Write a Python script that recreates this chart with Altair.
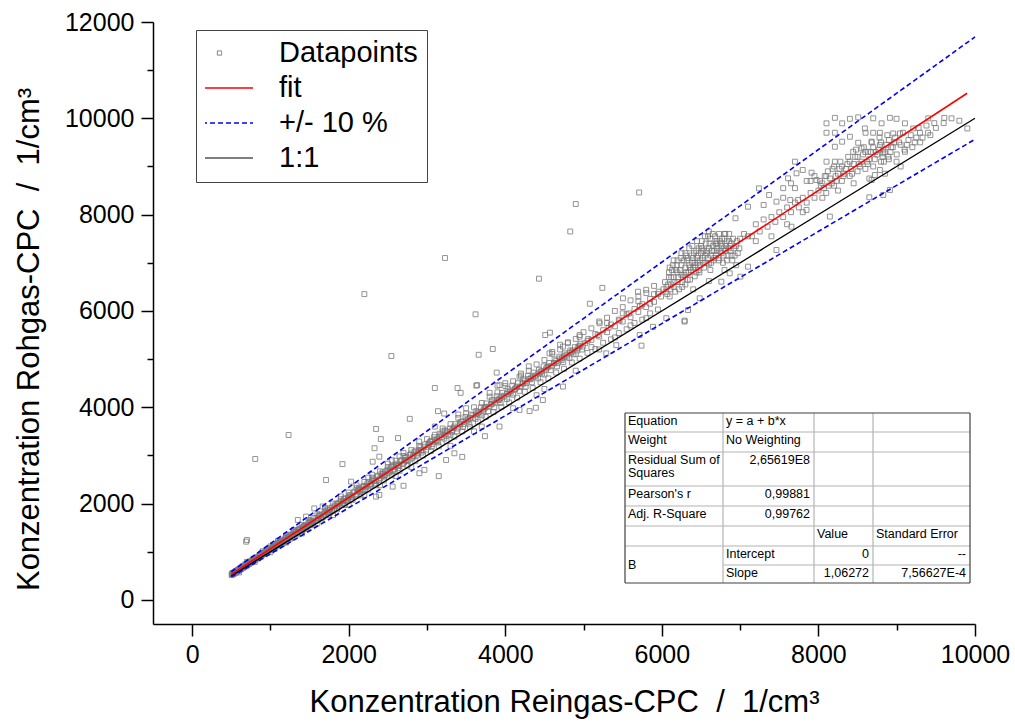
import altair as alt
import pandas as pd

# ---------------- data ----------------
pts_low = [(505,520),(510,545),(515,530),(520,560),(525,535),(530,540),(535,555),(540,580),(545,560),(550,565),
           (555,590),(560,600),(565,575),(575,590),(580,620),(590,630),(595,610),(600,610),(600,570),(610,640),
           (615,660),(625,645),(630,650),(640,690),(645,700),(650,665),(660,680),(670,715),(680,735),(690,700),
           (700,720),(700,790),(710,745),(715,770),(725,740),(730,760),(740,800),(750,800),(760,780),(770,795),
           (780,840),(790,850),(800,790),(810,840),(820,870),(830,885),(840,860),(850,870),(860,930),(870,940),
           (880,900),(890,925),(900,1010),(910,975),(920,950),(930,960),(940,1010),(950,1020),(960,985),(975,1010),
           (990,1070),(1000,1080),(1000,990),(1010,1040),(1020,1060),(1035,1100),(1045,1120),(1060,1090),(1070,1110),
           (1085,1170),(1095,1180),(1100,1220),(1110,1140),(1120,1160),(1135,1210),(1150,1230),(1160,1190),
           (1175,1220),(1190,1280),(1200,1300),(1200,1190),(1215,1250),(1230,1280),(1245,1340),(1260,1330),
           (1275,1300),(1290,1350),(1300,1450),(1310,1400),(1320,1420),(1335,1380),(1350,1400),(1365,1470),
           (1380,1480),(1395,1430),(1400,1380),(1410,1450),(1425,1530),(1440,1530),(1455,1500),(1470,1520),
           (1485,1600),(1500,1610),(1515,1550),(1530,1580),(1350,1660),(1455,1730)]

pts_low_b = [(508,530),(518,550),(528,555),(538,570),(548,585),(558,580),(568,600),(578,605),(588,615),(598,635),
             (608,625),(618,655),(628,665),(638,670),(648,685),(658,700),(668,700),(678,720),(688,740),(698,740),
             (720,760),(745,780),(765,815),(785,830),(805,860),(825,860),(845,900),(865,910),(885,950),(905,960),
             (925,990),(945,990),(965,1030),(985,1040),(1005,1060),(1030,1080),(1055,1130),(1080,1140),(1105,1180),
             (1130,1190),(1155,1240),(1180,1250),(1205,1280),(1235,1310),(1265,1360),(1295,1370),(1325,1410),
             (1355,1450),(1385,1460),(1415,1510),(1445,1550),(1475,1560),(1505,1590)]

pts_mid = [(1550,1700),(1560,1900),(1580,1640),(1600,1590),(1610,1690),(1620,1740),(1640,1760),(1667,1940),
           (1670,1720),(1700,1830),(1700,1910),(1730,1800),(1750,1870),(1760,1900),(1790,1850),(1800,1760),
           (1820,1960),(1850,1900),(1860,1990),(1880,2020),(1900,2150),(1910,1980),(1940,2100),(1970,2060),
           (1990,2110),(2000,2150),(2000,1980),(2030,2100),(2030,2456),(2060,2230),(2090,2170),(2100,2380),
           (2120,2290),(2140,2300),(2150,2240),(2180,2350),(2200,2180),(2210,2300),(2240,2420),(2250,2540),
           (2270,2370),(2280,2410),(2300,2480),(2300,2600),(2306,2870),(2330,2420),(2349,2145),(2360,2560),
           (2390,2500),(2391,2975),(2391,2180),(2400,2380),(2420,2620),(2440,2610),(2450,2560),(2480,2680),
           (2500,2830),(2510,2630),(2540,2760),(2550,2900),(2561,2352),(2570,2690),(2580,2760),(2600,2800),
           (2600,2570),(2630,2740),(2650,2980),(2660,2880),(2690,2820),(2700,3050),(2720,2950),(2730,2900),
           (2750,2880),(2780,3010),(2800,2760),(2810,2940),(2840,3070),(2870,3000),(2880,3060),(2900,3110),
           (2900,3290),(2903,2630),(2930,3060),(2960,3180),(2967,2700),(2990,3120)]

pts_mid_b = [(1520,1640),(1545,1620),(1575,1700),(1595,1660),(1625,1770),(1650,1700),(1680,1790),(1705,1760),
             (1735,1860),(1765,1820),(1785,1920),(1815,1880),(1845,2000),(1870,1940),(1895,2040),(1925,2010),
             (1955,2110),(1985,2070),(2015,2180),(2045,2140),(2075,2250),(2105,2200),(2135,2330),(2165,2280),
             (2195,2370),(2225,2340),(2255,2450),(2285,2400),(2315,2520),(2345,2470),(2375,2580),(2405,2530),
             (2435,2650),(2465,2590),(2495,2700),(2525,2660),(2555,2780),(2585,2720),(2615,2830),(2645,2790),
             (2675,2900),(2705,2850),(2735,2970),(2765,2910),(2795,3040),(2825,2980),(2855,3100),(2885,3040),
             (2915,3170),(2945,3110),(2975,3230)]

pts_4k = [(3020,3250),(3050,3300),(3060,3180),(3100,3330),(3100,3600),(3140,3270),(3150,3380),(3180,3420),
          (3200,3500),(3220,3350),(3244,2906),(3250,3500),(3260,3480),(3300,3420),(3300,3200),(3340,3570),
          (3350,3045),(3350,3600),(3380,3500),(3400,3850),(3420,3660),(3450,3700),(3460,3590),(3500,3730),
          (3500,3980),(3540,3660),(3550,3780),(3580,3830),(3600,3500),(3620,3760),(3650,3880),(3660,3900),
          (3700,3830),(3700,3600),(3740,3990),(3750,4010),(3780,3920),(3800,4300),(3820,4070),(3850,4120),
          (3860,4000),(3900,4160),(3900,4450),(3926,3600),(3926,4460),(3940,4090),(3950,4220),(3980,4240),
          (4000,4500),(4020,4170),(4050,4320),(4060,4330),(4100,4260),(4100,3980),(4140,4410),(4150,4430),
          (4180,4340),(4182,3945),(4182,4635),(4200,4700),(4220,4500),(4250,4540),(4260,4430),(4300,4590),
          (4300,4850),(4340,4520),(4350,4640),(4380,4660),(4400,4250),(4420,4600),(4450,4730),(4460,4750),
          (4480,4150),(4500,4680),(4500,4380),(4540,4840),(4550,4850),(4565,5120),(4580,4770),(4600,5150),
          (4620,4920),(4650,4960),(4660,4850),(4700,5010),(4700,5300),(4737,4430),(4737,5260),(4740,4940),
          (4750,5060),(4780,5090),(4800,5350),(4820,5020),(4850,5150),(4860,5180),(4900,5110),(4900,4760),
          (4940,5260),(4949,5465),(4950,5500),(4950,5280),(4980,5200)]

pts_4k_b = [(3010,3180),(3040,3280),(3070,3240),(3090,3380),(3120,3300),(3160,3450),(3190,3380),(3230,3520),
            (3270,3440),(3290,3560),(3320,3500),(3360,3650),(3390,3560),(3430,3700),(3470,3650),(3490,3800),
            (3520,3720),(3560,3850),(3590,3780),(3630,3920),(3670,3850),(3690,4000),(3720,3930),(3760,4080),
            (3790,4010),(3830,4150),(3870,4090),(3890,4230),(3920,4150),(3960,4300),(3990,4220),(4030,4380),
            (4070,4290),(4090,4450),(4120,4370),(4160,4500),(4190,4420),(4230,4580),(4270,4500),(4290,4650),
            (4320,4580),(4360,4720),(4390,4640),(4430,4780),(4470,4700),(4490,4850),(4520,4780),(4560,4920),
            (4590,4850),(4630,4990),(4670,4920),(4690,5050),(4720,4980),(4760,5120),(4790,5050),(4830,5180),
            (4870,5100),(4890,5250),(4920,5180),(4960,5320),(4990,5260)]

band_upper = [(1000,1110),(1100,1230),(1200,1340),(1300,1430),(1400,1560),(1500,1660),(1600,1780),(1700,1880),
              (1800,2000),(1900,2090),(2000,2230),(2100,2320),(2200,2450),(2300,2540),(2400,2670),(2500,2760),
              (2600,2890),(2700,2990),(2800,3110),(2900,3200),(3000,3340),(3100,3430),(3200,3560),(3300,3650),
              (3400,3780),(3500,3870),(3600,4000),(3700,4090),(3800,4220),(3900,4310),(4000,4440),(4100,4540),
              (4200,4660),(4300,4760),(4400,4890),(4500,4980),(4600,5110),(4700,5200),(4800,5330),(4900,5420),
              (5000,5560),(5100,5640),(5200,5780),(5300,5860),(5400,6000),(5500,6080),(5600,6220),(5700,6300),
              (5800,6440),(5900,6520)]

band_lower = [(1050,1060),(1150,1160),(1250,1270),(1350,1360),(1450,1470),(1550,1570),(1650,1670),(1750,1760),
              (1850,1880),(1950,1970),(2050,2080),(2150,2170),(2250,2290),(2350,2380),(2450,2480),(2550,2590),
              (2650,2680),(2750,2790),(2850,2880),(2950,3000),(3050,3090),(3150,3190),(3250,3300),(3350,3390),
              (3450,3500),(3550,3590),(3650,3700),(3750,3800),(3850,3900),(3950,4010),(4050,4100),(4150,4200),
              (4250,4320),(4350,4400),(4450,4520),(4550,4600),(4650,4720),(4750,4800),(4850,4930),(4950,5010),
              (5050,5130),(5150,5210),(5250,5340),(5350,5410),(5450,5540),(5550,5620),(5650,5750),(5750,5820),
              (5850,5950),(5950,6030)]

band_centre = [(1025,1090),(1125,1200),(1225,1300),(1325,1410),(1425,1510),(1525,1620),(1625,1730),(1725,1830),
               (1825,1940),(1925,2050),(2025,2150),(2125,2260),(2225,2370),(2325,2470),(2425,2580),(2525,2680),
               (2625,2790),(2725,2900),(2825,3000),(2925,3110),(3025,3220),(3125,3320),(3225,3430),(3325,3530),
               (3425,3640),(3525,3750),(3625,3850),(3725,3960),(3825,4060),(3925,4170),(4025,4280),(4125,4380),
               (4225,4490),(4325,4600),(4425,4700),(4525,4810),(4625,4910),(4725,5020),(4825,5130),(4925,5230)]

pts_5k = [(5020,5330),(5050,5380),(5060,5420),(5100,5400),(5100,5250),(5150,5520),(5180,5500),(5200,5470),
          (5200,5200),(5205,5745),(5250,5600),(5290,5120),(5300,5560),(5300,5750),(5320,5650),(5350,5720),
          (5400,5680),(5400,5450),(5418,5290),(5450,5820),(5460,5800),(5500,5780),(5500,5950),(5503,6263),
          (5550,5930),(5580,5950),(5600,5870),(5600,5700),(5650,6040),(5695,6400),(5700,5980),(5700,6200),
          (5716,5500),(5720,6100),(5750,6140),(5800,6080),(5800,5850),(5802,6370),(5850,6250),(5850,6150),
          (5886,5670),(5900,6190),(5900,6350),(5950,6350),(5960,6400),(5990,6300),(6057,5850)]

pts_6k = [(6050,6400),(6080,6550),(6100,6300),(6100,6900),(6120,6700),(6120,6550),(6150,6500),(6150,6700),
          (6150,7050),(6180,6850),(6200,6600),(6200,6800),(6200,7050),(6220,6450),(6250,6950),(6250,6750),
          (6250,7200),(6270,6700),(6291,5800),(6300,6550),(6300,6900),(6300,7200),(6320,7050),(6330,6650),
          (6334,6020),(6340,6800),(6350,6950),(6350,7300),(6360,6650),(6380,7150),(6400,6900),(6400,7100),
          (6400,6450),(6420,6720),(6440,7250),(6450,7100),(6450,7450),(6460,7000),(6470,6850),(6480,6800),
          (6483,6263),(6500,7350),(6500,7200),(6520,7100),(6540,6900),(6550,7150),(6550,7550),(6560,7400),
          (6580,7200),(6600,6980),(6600,7300),(6600,7650),(6600,6620),(6620,7500),(6620,6850),(6640,7250),
          (6650,7350),(6660,7050),(6680,7550),(6700,7300),(6700,7450),(6720,7100),(6730,7050),(6740,7450),
          (6750,7400),(6760,7200),(6760,6608),(6780,7000),(6800,7600),(6800,7500),(6800,6850),(6820,7350),
          (6840,7150),(6850,7300),(6860,7450),(6867,6782),(6880,7250),(6900,7050),(6940,7925),(6950,7350),
          (6950,6950),(7000,7500),(7003,6712),(7050,7600),(7100,7550),(7101,8165),(7101,6920)]

pts_6k_b = [(6060,6500),(6090,6700),(6110,6450),(6130,6850),(6160,6600),(6190,6950),(6210,6700),(6230,6850),
            (6260,6600),(6280,7050),(6310,6800),(6330,7100),(6360,6900),(6390,7000),(6410,7200),(6430,6950),
            (6460,7150),(6490,7050),(6510,7300),(6530,7000),(6570,7250),(6590,7100),(6610,7400),(6630,7150),
            (6670,7250),(6690,7150),(6710,7400),(6750,7250),(6770,7350),(6790,7150),(6810,7250),(6830,7450),
            (6870,7350),(6890,7150),(6920,7300),(6970,7200)]

pts_6k_c = [(6020,6450),(6040,6600),(6070,6350),(6090,6800),(6140,6950),(6170,6400),(6240,7100),(6260,6500),
            (6290,6750),(6310,7150),(6370,6850),(6390,7350),(6420,7000),(6440,6800),(6470,7300),(6490,6950),
            (6510,7450),(6530,7250),(6570,7000),(6590,7550),(6630,7000),(6650,7600),(6670,7100),(6690,7400),
            (6710,7250),(6730,7600),(6770,7500),(6790,7300),(6810,7600),(6830,7050),(6860,7600),(6880,7400),
            (6910,7500),(6930,7150),(6960,7450),(6990,7300)]

pts_7k = [(7150,7550),(7200,7800),(7200,7450),(7240,8546),(7250,7650),(7300,7900),(7300,8200),(7350,7750),
          (7370,8408),(7400,7950),(7400,7550),(7450,7850),(7464,8270),(7464,7266),(7500,8050),(7550,7950),
          (7550,8350),(7550,8550),(7600,8150),(7600,7800),(7612,8754),(7640,8304),(7650,8050),(7650,8650),
          (7655,7750),(7700,8250),(7700,8550),(7700,9100),(7720,8858),(7740,8304),(7750,8150),(7800,8350),
          (7800,8050),(7800,8927),(7848,8096),(7850,8250),(7850,8700),(7900,8450),(7900,8700),(7912,8872),
          (7950,8350),(7950,8800),(7975,8719)]

pts_8k = [(8000,8500),(8050,8650),(8050,8350),(8100,8450),(8100,8800),(8103,9896),(8103,9700),(8103,9100),
          (8146,7960),(8150,8750),(8200,8600),(8200,9000),(8210,10010),(8210,9700),(8210,9410),(8210,9100),
          (8250,8850),(8250,8500),(8300,8700),(8300,9000),(8303,9896),(8303,9515),(8350,8950),(8400,8800),
          (8400,9100),(8402,9990),(8402,9618),(8444,9305),(8450,9050),(8450,8650),(8500,8900),(8500,9200),
          (8508,10020),(8508,9493),(8550,9100),(8551,9377),(8593,9790),(8600,8950),(8600,9300),(8602,9700),
          (8636,9305),(8650,9150),(8650,8750),(8650,8360),(8679,9515),(8679,8719),(8700,9000),(8700,9400),
          (8700,10000),(8700,9700),(8721,8823),(8750,9250),(8785,9700),(8785,9446),(8785,8927),(8800,9100),
          (8800,9500),(8807,9896),(8828,9273),(8828,8408),(8836,9100),(8850,9300),(8850,8850),(8892,9204),
          (8900,9150),(8900,9550),(8913,10010),(8913,8512),(8950,9400),(8955,9686),(8998,9990),(8998,9100),
          (9000,9250),(9041,9686),(9050,9450),(9050,9000),(9100,9350),(9105,9896),(9105,9305),(9150,9550),
          (9200,9400),(9211,9790),(9250,9600),(9297,9700),(9300,9500),(9403,10000),(9400,9700),(9500,9800),
          (9600,9900),(9608,10010),(9700,10000),(9800,9950),(9902,9790)]

pts_8k_b = [(8020,8700),(8070,8550),(8120,8900),(8170,8650),(8220,8800),(8270,8950),(8320,8800),(8370,9050),
            (8420,8950),(8470,9200),(8520,9050),(8570,9250),(8620,9100),(8670,9300),(8720,9150),(8770,9350),
            (8820,9200),(8870,9450),(8920,9300),(8970,9500),
            (8030,8600),(8080,8800),(8130,8600),(8180,8950),(8230,8700),(8280,9100),(8330,8850),(8380,9200),
            (8430,8850),(8480,9350),(8530,9000),(8580,9400),(8630,9050),(8680,9500),(8730,9300),(8780,9600),
            (8830,9350),(8880,9650),(8930,9400),(8980,9600),(9030,9500),(9080,9700),(9130,9450),(9180,9650),
            (9230,9500),(9280,9800),(9330,9600),(9380,9850),(9430,9650),(9480,9900)]

outliers = [(690,1210),(700,1245),(806,2927),(1232,3425),(1710,2490),(1920,2820),(2200,6350),(2545,5065),
            (2350,3550),(2410,3340),(2330,3150),(2630,3360),(2780,3760),(3100,4400),(3140,3920),(3220,3870),
            (3390,4400),(3430,4300),(3630,4450),(3450,2970),(3150,2570),(2700,2370),(5710,8460),(4900,8220),
            (4830,7650),(3230,7100),(4430,6670),(3620,5930),(5240,6480),(5080,6150),(3660,5090),(3840,5210),
            (4510,5500),(4570,5550),(3890,4720),(3640,4460),(6290,5780),(5740,5280),(4310,3920),(4390,3990),
            (3740,3400)]

fit_slope = 1.06272          # from the fit table
band = 0.10                  # +/- 10 %
line_start = 500
fit_end = 9900
line_end = 10000

x_tick_values = list(range(0, 10001, 1000))
y_tick_values = list(range(0, 12001, 1000))

legend_labels = ["Datapoints", "fit", "+/- 10 %", "1:1"]
legend_colors = ["#7a7a7a", "#ff0000", "#0000ff", "#000000"]

tbl_col1 = ["Equation", "Weight", "Residual Sum of\nSquares", "Pearson's r", "Adj. R-Square", ""]
tbl_merged = "B"
tbl_col2 = ["y = a + b*x", "No Weighting", "2,65619E8", "0,99881", "0,99762", "", "Intercept", "Slope"]
tbl_col3 = ["", "", "", "", "", "Value", "0", "1,06272"]
tbl_col4 = ["", "", "", "", "", "Standard Error", "--", "7,56627E-4"]

NB = "\u00a0"
x_title = f"Konzentration Reingas-CPC {NB}/{NB} 1/cm³"
y_title = f"Konzentration Rohgas-CPC {NB}/{NB} 1/cm³"

# ---------------- layout / style ----------------
FONT = "Liberation Sans"
W, H = 822, 602
col_edges = [472, 570, 661, 720, 817]
row_edges = [391, 410, 430, 464, 484, 504, 524, 543, 561]
col2_align = ["l", "l", "r", "r", "r", "l", "l", "l"]
col3_align = ["l", "l", "l", "l", "l", "l", "r", "r"]
col4_align = ["l", "l", "l", "l", "l", "l", "r", "r"]

# ---------------- build tables ----------------
all_pts = (pts_low + pts_low_b + pts_mid + pts_mid_b + pts_4k + pts_4k_b + band_upper + band_lower
           + band_centre + pts_5k + pts_6k + pts_6k_b + pts_6k_c + pts_7k + pts_8k + pts_8k_b + outliers)
scatter_df = pd.DataFrame(all_pts, columns=["x", "y"])
scatter_df["series"] = "Datapoints"

def seg(series, part, x0, x1, factor):
    return [{"x": x0, "y": x0 * factor, "series": series, "part": part},
            {"x": x1, "y": x1 * factor, "series": series, "part": part}]

fit_df = pd.DataFrame(seg("fit", "fit", line_start, fit_end, fit_slope))
band_df = pd.DataFrame(seg("+/- 10 %", "up", line_start, line_end, fit_slope * (1 + band)) +
                       seg("+/- 10 %", "lo", line_start, line_end, fit_slope * (1 - band)))
one_df = pd.DataFrame(seg("1:1", "one", line_start, line_end, 1.0))

color_scale = alt.Scale(domain=legend_labels, range=legend_colors)
legend = alt.Legend(
    title=None, orient="none", legendX=43, legendY=8,
    strokeColor="#444444", fillColor="white", padding=9, rowPadding=6,
    labelFont=FONT, labelFontSize=29, labelColor="black", labelOffset=45, labelLimit=400,
    clipHeight=28,
    symbolType={"expr": "datum.value === 'Datapoints' ? 'square' : 'stroke'"},
    symbolSize={"expr": "datum.value === 'Datapoints' ? 18 : 4489"},
    symbolDash={"expr": "datum.value === '+/- 10 %' ? [5, 3] : [1, 0]"},
    symbolStrokeWidth={"expr": "datum.value === 'Datapoints' ? 1 : (datum.value === '1:1' ? 1.2 : 1.5)"},
    symbolFillColor="transparent",
    symbolOpacity=1,
)

major = "datum.value % 2000 === 0"
x_axis = alt.Axis(
    values=x_tick_values, format="d", labelExpr=f"{major} ? datum.label : ''",
    tickSize={"condition": {"test": major, "value": 12}, "value": 6},
    tickWidth=1.5, tickColor="black", domainColor="black", domainWidth=1.5,
    labelFont=FONT, labelFontSize=25, labelColor="black", labelPadding=6,
    labelFlush=False, labelOverlap=False, grid=False,
    titleFont=FONT, titleFontSize=31, titleFontWeight="normal", titleColor="black", titlePadding=20,
)
y_axis = alt.Axis(
    values=y_tick_values, format="d", labelExpr=f"{major} ? datum.label : ''",
    tickSize={"condition": {"test": major, "value": 12}, "value": 6},
    tickWidth=1.5, tickColor="black", domainColor="black", domainWidth=1.5,
    labelFont=FONT, labelFontSize=25, labelColor="black", labelPadding=7,
    labelFlush=False, labelOverlap=False, grid=False,
    titleFont=FONT, titleFontSize=31, titleFontWeight="normal", titleColor="black", titlePadding=19,
    titleY=317,
)

X = alt.X("x:Q", scale=alt.Scale(domain=[-500, 10000], nice=False, zero=False), axis=x_axis, title=x_title)
Y = alt.Y("y:Q", scale=alt.Scale(domain=[-500, 12000], nice=False, zero=False), axis=y_axis, title=y_title)
C = alt.Color("series:N", scale=color_scale, legend=legend)

scatter = alt.Chart(scatter_df).mark_point(
    shape="square", filled=False, size=24, strokeWidth=1.0, opacity=0.8
).encode(x=X, y=Y, color=C)

fit_line = alt.Chart(fit_df).mark_line(strokeWidth=1.6).encode(x=X, y=Y, color=C, detail="part:N")
band_lines = alt.Chart(band_df).mark_line(strokeWidth=1.6, strokeDash=[5, 3]).encode(
    x=X, y=Y, color=C, detail="part:N")
one_line = alt.Chart(one_df).mark_line(strokeWidth=1.3).encode(x=X, y=Y, color=C, detail="part:N")

# ---------------- fit table (pixel layout) ----------------
L, R = col_edges[0], col_edges[-1]
T, B = row_edges[0], row_edges[-1]
bg_df = pd.DataFrame([{"x1": L, "x2": R, "y1": T, "y2": B}])
rules = []
for i in range(1, len(row_edges) - 1):
    start = col_edges[1] if i == 7 else L
    rules.append({"x1": start, "x2": R, "y1": row_edges[i], "y2": row_edges[i], "k": "inner"})
for c in col_edges[1:-1]:
    rules.append({"x1": c, "x2": c, "y1": T, "y2": B, "k": "inner"})
rules += [{"x1": L, "x2": R, "y1": T, "y2": T, "k": "outer"},
          {"x1": L, "x2": R, "y1": B, "y2": B, "k": "outer"},
          {"x1": L, "x2": L, "y1": T, "y2": B, "k": "outer"},
          {"x1": R, "x2": R, "y1": T, "y2": B, "k": "outer"}]
rules_df = pd.DataFrame(rules)

texts = []
for r, t in enumerate(tbl_col1):
    if t:
        texts.append({"px": L + 3, "py": row_edges[r] + 2, "t": t, "a": "l"})
for col, (vals, aligns) in enumerate([(tbl_col2, col2_align), (tbl_col3, col3_align), (tbl_col4, col4_align)], start=1):
    for r, t in enumerate(vals):
        if not t:
            continue
        a = aligns[r]
        px = col_edges[col] + 3 if a == "l" else col_edges[col + 1] - 4
        texts.append({"px": px, "py": row_edges[r] + 2, "t": t, "a": a})
text_df = pd.DataFrame(texts)
merged_df = pd.DataFrame([{"px": L + 3, "py": (row_edges[6] + row_edges[8]) / 2, "t": tbl_merged}])

PX = alt.X("px:Q", scale=None, axis=None)
PY = alt.Y("py:Q", scale=None, axis=None)

tbl_bg = alt.Chart(bg_df).mark_rect(fill="white").encode(
    x=alt.X("x1:Q", scale=None, axis=None), x2="x2:Q",
    y=alt.Y("y1:Q", scale=None, axis=None), y2="y2:Q")
tbl_inner = alt.Chart(rules_df).transform_filter("datum.k === 'inner'").mark_rule(
    color="#b4b4b4", strokeWidth=1.2).encode(
    x=alt.X("x1:Q", scale=None, axis=None), x2="x2:Q",
    y=alt.Y("y1:Q", scale=None, axis=None), y2="y2:Q")
tbl_outer = alt.Chart(rules_df).transform_filter("datum.k === 'outer'").mark_rule(
    color="#404040", strokeWidth=1.2).encode(
    x=alt.X("x1:Q", scale=None, axis=None), x2="x2:Q",
    y=alt.Y("y1:Q", scale=None, axis=None), y2="y2:Q")
txt_left = alt.Chart(text_df).transform_filter("datum.a === 'l'").mark_text(
    align="left", baseline="top", font=FONT, fontSize=12.5, color="black", lineBreak="\n", lineHeight=13
).encode(x=PX, y=PY, text="t:N")
txt_right = alt.Chart(text_df).transform_filter("datum.a === 'r'").mark_text(
    align="right", baseline="top", font=FONT, fontSize=12.5, color="black"
).encode(x=PX, y=PY, text="t:N")
txt_merged = alt.Chart(merged_df).mark_text(
    align="left", baseline="middle", font=FONT, fontSize=12.5, color="black"
).encode(x=PX, y=PY, text="t:N")

chart = alt.layer(
    scatter, one_line, fit_line, band_lines,
    tbl_bg, tbl_inner, tbl_outer, txt_left, txt_right, txt_merged
).properties(
    width=W, height=H,
    autosize=alt.AutoSizeParams(type="none"),
    padding={"left": 153, "top": 22, "right": 40, "bottom": 98},
    background="white",
).configure_view(stroke=None)

chart.save("out.html", embed_options={"renderer": "svg", "actions": False})
